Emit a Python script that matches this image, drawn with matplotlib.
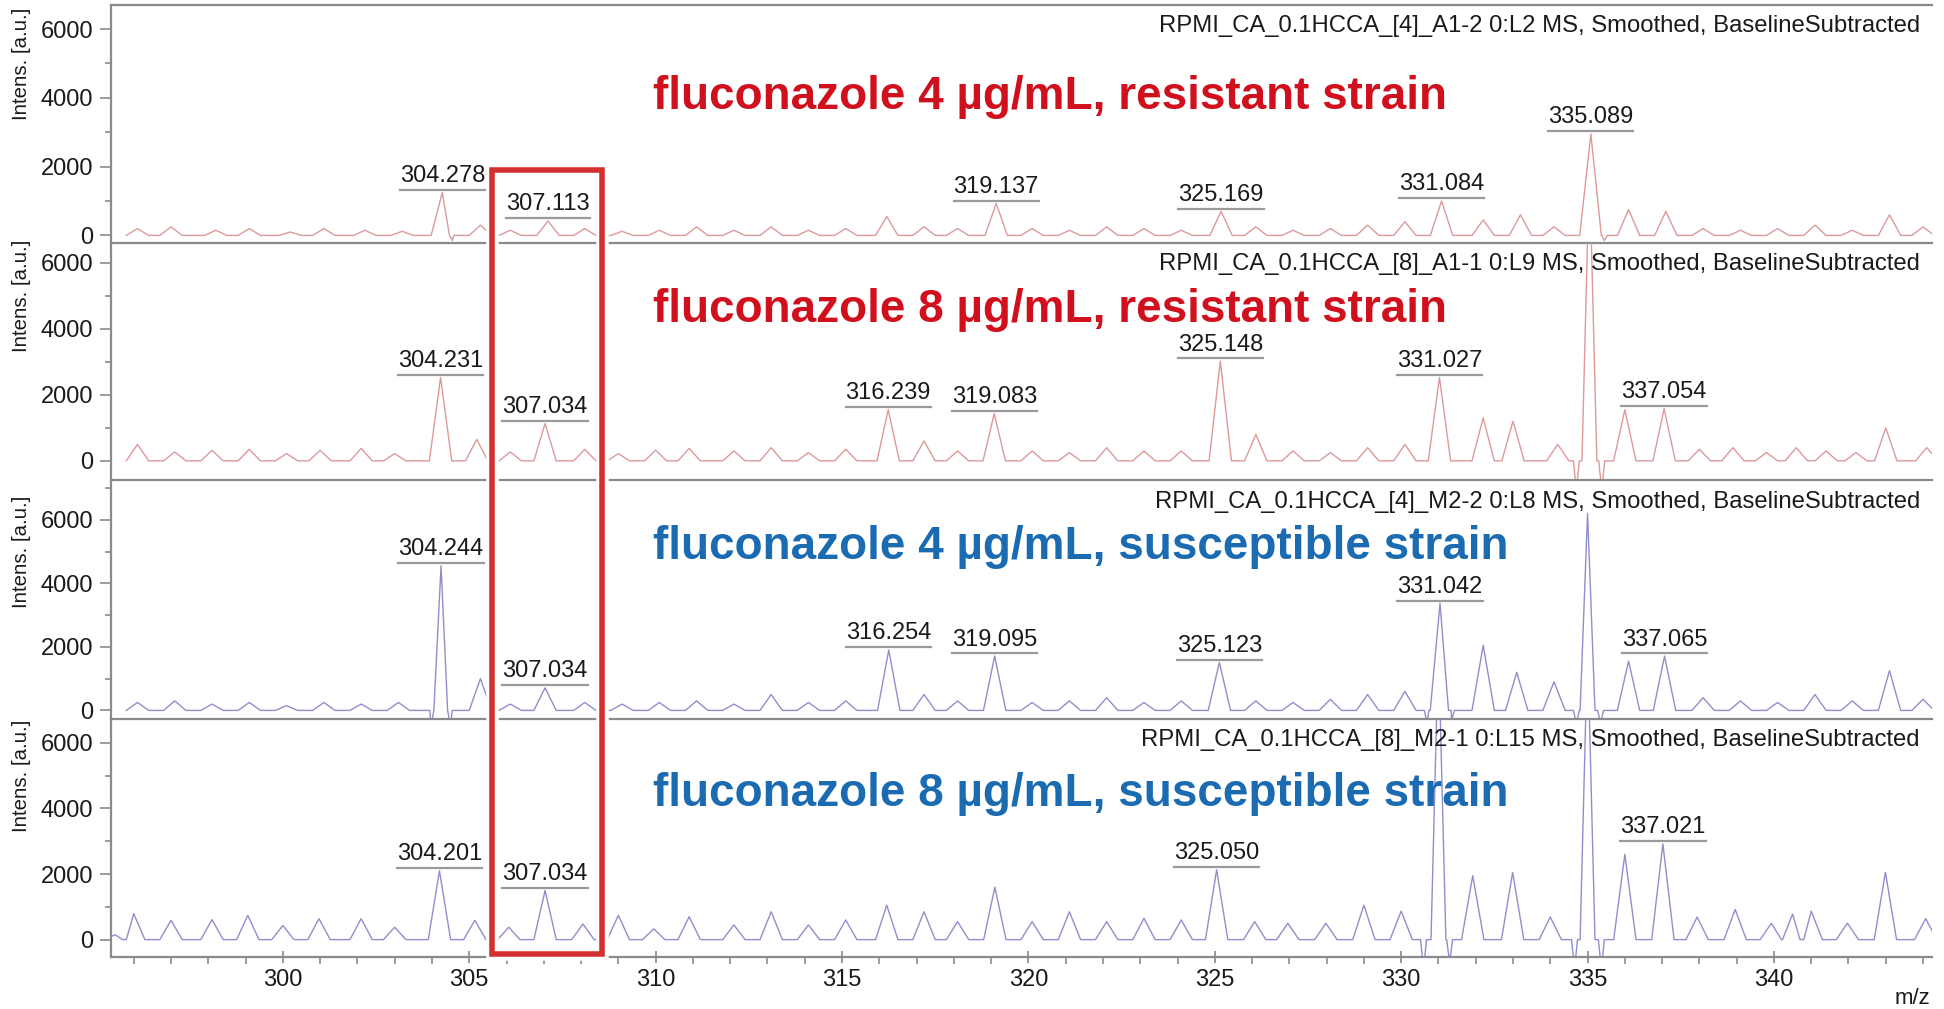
import matplotlib.pyplot as plt
import matplotlib.transforms as mtransforms
from matplotlib.patches import Rectangle
from matplotlib.ticker import MultipleLocator

plt.rcParams['font.family'] = ['Liberation Sans', 'DejaVu Sans']

# ---- data: peak positions (m/z) and intensities (a.u.)
# negative values are the baseline-subtraction dips next to the big peaks
mz_r4 = [296.1, 297.0, 298.2, 299.1, 300.2, 301.1, 302.2, 303.2, 304.278, 304.55, 305.3, 306.1,
         307.113, 308.1, 309.1, 310.1, 311.1, 312.1, 313.1, 314.1, 315.1, 316.2, 317.2, 318.1,
         319.137, 320.1, 321.1, 322.1, 323.1, 324.1, 325.169, 326.1, 327.1, 328.1, 329.1, 330.1,
         331.084, 332.2, 333.2, 334.1, 335.089, 335.45, 336.1, 337.1, 338.1, 339.1, 340.1, 341.1,
         342.1, 343.1, 344.0]
int_r4 = [200, 250, 150, 200, 100, 200, 150, 120, 1250, -150, 300, 150,
          420, 200, 120, 150, 250, 150, 250, 150, 200, 550, 250, 200,
          930, 200, 150, 250, 200, 150, 700, 250, 150, 200, 300, 400,
          1000, 450, 600, 250, 2950, -150, 750, 700, 200, 150, 200, 300,
          150, 600, 250]

mz_r8 = [296.1, 297.1, 298.1, 299.1, 300.1, 301.0, 302.1, 303.0, 304.231, 305.2, 306.1, 307.034,
         308.1, 309.0, 310.0, 310.9, 312.1, 313.1, 314.1, 315.1, 316.239, 317.2, 318.1, 319.083,
         320.1, 321.1, 322.1, 323.1, 324.1, 325.148, 326.1, 327.1, 328.1, 329.1, 330.1, 331.027,
         332.2, 333.0, 334.2, 334.7, 335.05, 335.38, 336.0, 337.054, 338.0, 338.9, 339.8, 340.6,
         341.4, 342.2, 343.0, 344.1]
int_r8 = [500, 270, 320, 350, 220, 320, 380, 220, 2530, 650, 270, 1130,
          350, 220, 320, 380, 300, 400, 250, 350, 1550, 600, 300, 1430,
          300, 250, 400, 300, 300, 3020, 800, 300, 250, 400, 500, 2530,
          1300, 1200, 500, -900, 9000, -900, 1550, 1580, 350, 400, 250, 400,
          300, 250, 1000, 400]

mz_s4 = [296.1, 297.1, 298.1, 299.1, 300.1, 301.1, 302.1, 303.1, 303.97, 304.244, 304.5, 305.3,
         306.1, 307.034, 308.1, 309.1, 310.1, 311.1, 312.1, 313.1, 314.1, 315.1, 316.254, 317.2,
         318.1, 319.095, 320.1, 321.1, 322.1, 323.1, 324.1, 325.123, 326.1, 327.1, 328.1, 329.1,
         330.1, 330.7, 331.042, 331.35, 332.2, 333.1, 334.1, 334.7, 335.0, 335.35, 336.1, 337.065,
         338.1, 339.1, 340.1, 341.1, 342.1, 343.1, 344.0]
int_s4 = [250, 300, 200, 250, 150, 250, 200, 250, -500, 4550, -500, 1000,
          200, 710, 250, 200, 250, 300, 200, 500, 250, 300, 1900, 500,
          300, 1710, 250, 300, 400, 250, 300, 1510, 300, 250, 350, 500,
          600, -400, 3370, -300, 2050, 1200, 900, -400, 6200, -400, 1550, 1710,
          400, 300, 250, 500, 300, 1250, 350]

mz_s8 = [295.5, 296.0, 297.0, 298.1, 299.06, 300.0, 300.97, 302.1, 303.0, 304.201, 305.15, 306.06,
         307.034, 308.05, 309.0, 309.95, 310.9, 312.1, 313.1, 314.1, 315.1, 316.2, 317.2, 318.1,
         319.1, 320.1, 321.1, 322.1, 323.1, 324.1, 325.05, 326.07, 326.96, 327.98, 329.0, 330.0,
         330.6, 331.0, 331.3, 331.92, 332.99, 334.0, 334.65, 335.0, 335.37, 336.0, 337.021, 337.94,
         338.96, 339.93, 340.5, 341.0, 341.97, 342.99, 344.07]
int_s8 = [150, 790, 590, 610, 740, 430, 640, 640, 380, 2100, 590, 380,
          1500, 480, 740, 330, 700, 450, 850, 450, 600, 1050, 850, 550,
          1600, 550, 850, 550, 650, 600, 2130, 550, 500, 500, 1050, 870,
          -900, 9000, -700, 1950, 2050, 690, -900, 9000, -900, 2600, 2920, 690,
          920, 500, 780, 870, 500, 2050, 640]

# labelled peaks per panel
lab_r4 = ['304.278', '307.113', '319.137', '325.169', '331.084', '335.089']
lab_r8 = ['304.231', '307.034', '316.239', '319.083', '325.148', '331.027', '337.054']
lab_s4 = ['304.244', '307.034', '316.254', '319.095', '325.123', '331.042', '337.065']
lab_s8 = ['304.201', '307.034', '325.050', '337.021']

headers = ['RPMI_CA_0.1HCCA_[4]_A1-2 0:L2 MS, Smoothed, BaselineSubtracted',
           'RPMI_CA_0.1HCCA_[8]_A1-1 0:L9 MS, Smoothed, BaselineSubtracted',
           'RPMI_CA_0.1HCCA_[4]_M2-2 0:L8 MS, Smoothed, BaselineSubtracted',
           'RPMI_CA_0.1HCCA_[8]_M2-1 0:L15 MS, Smoothed, BaselineSubtracted']
titles = ['fluconazole 4 µg/mL, resistant strain',
          'fluconazole 8 µg/mL, resistant strain',
          'fluconazole 4 µg/mL, susceptible strain',
          'fluconazole 8 µg/mL, susceptible strain']

spectra = [(mz_r4, int_r4, lab_r4), (mz_r8, int_r8, lab_r8),
           (mz_s4, int_s4, lab_s4), (mz_s8, int_s8, lab_s8)]

line_colors = ['#dc9a9a', '#dc9a9a', '#8f8fcc', '#8f8fcc']
title_colors = ['#d0101c', '#d0101c', '#1b6bb3', '#1b6bb3']
ylims = [(-220, 6700), (-580, 6600), (-270, 7250), (-530, 6730)]
title_y = [0.613, 0.717, 0.72, 0.685]


def trace(mz, inten):
    # each peak drawn as a narrow triangle on a zero baseline
    xs, ys = [], []
    for m, h in zip(mz, inten):
        if h < 0:
            hw = 0.08
        elif h > 5000:
            hw = 0.2
        else:
            hw = 0.3
        xs += [m - hw, m, m + hw]
        ys += [0, h, 0]
    pts = sorted(zip(xs, ys))
    return [p[0] for p in pts], [p[1] for p in pts]


W, H = 1944, 1009
fig = plt.figure(figsize=(W / 100, H / 100), dpi=100)
edges = [5, 243, 480, 719, 957]
left, right = 111, 1932
gray = '#8a8a8a'

axes = []
for i in range(4):
    ax = fig.add_axes([left / W, 1 - edges[i + 1] / H, (right - left) / W,
                       (edges[i + 1] - edges[i]) / H])
    axes.append(ax)
    mz, inten, labs = spectra[i]
    xs, ys = trace(mz, inten)
    ax.plot(xs, ys, color=line_colors[i], lw=1.0)
    ax.set_xlim(295.39, 344.24)
    ax.set_ylim(*ylims[i])

    ax.spines['right'].set_visible(False)
    ax.spines['top'].set_visible(i == 0)
    for s in ['left', 'bottom', 'top']:
        ax.spines[s].set_color(gray)
        ax.spines[s].set_linewidth(1.6)

    ax.yaxis.set_major_locator(MultipleLocator(2000))
    ax.yaxis.set_minor_locator(MultipleLocator(1000))
    ax.tick_params(axis='y', which='major', length=8, width=1.2, color=gray,
                   labelsize=17, pad=5, labelcolor='#1a1a1a')
    ax.tick_params(axis='y', which='minor', length=4.5, width=1.2, color=gray)
    ax.xaxis.set_major_locator(MultipleLocator(5))
    ax.xaxis.set_minor_locator(MultipleLocator(1))
    if i < 3:
        ax.tick_params(axis='x', which='both', bottom=False, labelbottom=False)
    else:
        ax.tick_params(axis='x', which='major', length=8, width=1.2, color=gray,
                       direction='inout', labelsize=17, pad=5, labelcolor='#1a1a1a')
        ax.tick_params(axis='x', which='minor', length=5, width=1.2, color=gray,
                       direction='out')
    ax.patch.set_alpha(0)

    ax.text(0.9934, 0.91, headers[i], transform=ax.transAxes, ha='right', va='center',
            fontsize=17.2, color='#1a1a1a')
    ax.text(0.2976, title_y[i], titles[i], transform=ax.transAxes, ha='left', va='center',
            fontsize=33, fontweight='bold', color=title_colors[i])
    ylab_tr = mtransforms.blended_transform_factory(ax.transAxes, ax.transData)
    ax.text(-0.0494, 5000, 'Intens. [a.u.]', transform=ylab_tr, rotation=90,
            ha='center', va='center', fontsize=14.7, color='#1a1a1a')

fig.text(1912 / W, 1 - 998 / H, 'm/z', ha='center', va='center', fontsize=16, color='#1a1a1a')

# peak labels with underline
fig.canvas.draw()
renderer = fig.canvas.get_renderer()
for i, ax in enumerate(axes):
    mz, inten, labs = spectra[i]
    for lab in labs:
        m = float(lab)
        k = min(range(len(mz)), key=lambda j: abs(mz[j] - m))
        h = inten[k]
        t = ax.annotate(lab, (mz[k], h), xytext=(0, 4), textcoords='offset points',
                        ha='center', va='bottom', fontsize=17, color='#1a1a1a')
        bb = t.get_window_extent(renderer)
        x0 = ax.transData.inverted().transform((bb.x0, 0))[0]
        x1 = ax.transData.inverted().transform((bb.x1, 0))[0]
        off = ax.transData + mtransforms.ScaledTranslation(0, 2 / 72, fig.dpi_scale_trans)
        ax.plot([x0, x1], [h, h], color='#9a9a9a', lw=1.6, transform=off)

# highlight box around the 307 peak
box_tr = mtransforms.blended_transform_factory(axes[3].transData, fig.transFigure)
box_x0, box_x1 = 305.62, 308.57
box_y0, box_y1 = 1 - 954 / H, 1 - 170 / H
for ec, lw in [('white', 9), ('#d3312f', 4)]:
    fig.add_artist(Rectangle((box_x0, box_y0), box_x1 - box_x0, box_y1 - box_y0,
                             transform=box_tr, fill=False, edgecolor=ec, lw=lw, zorder=10))

fig.savefig('out.png', dpi=100, facecolor='white')
